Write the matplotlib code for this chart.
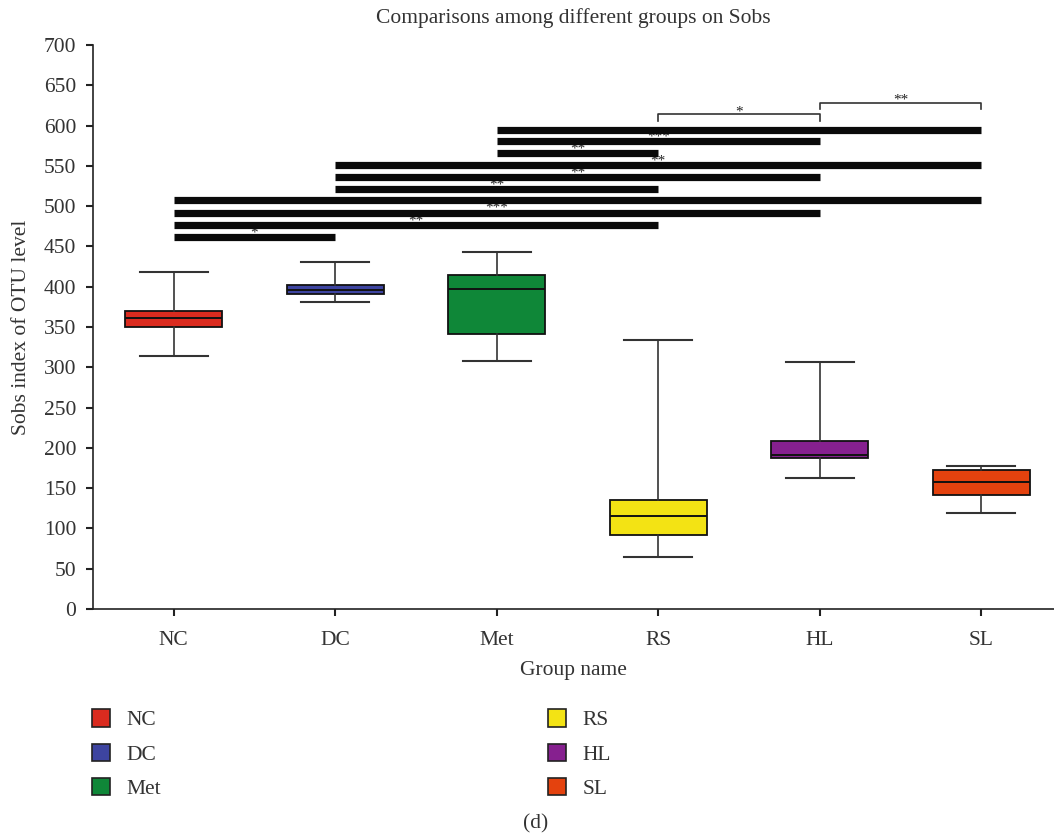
import matplotlib
matplotlib.use("Agg")
from matplotlib import pyplot as plt
from matplotlib.patches import Patch

plt.rcParams['font.family'] = ['Liberation Serif', 'DejaVu Serif']

groups = ['NC', 'DC', 'Met', 'RS', 'HL', 'SL']
colors = ['#DA2B1F', '#3D44A0', '#0F8738', '#F3E314', '#86208F', '#E4420E']

# box summary per group
whis_low = [314, 381, 308, 65, 162, 119]
q1 = [350, 391, 341, 92, 187, 141]
median = [361, 396, 397, 115, 191, 157]
q3 = [370, 402, 414, 135, 209, 172]
whis_high = [418, 430, 443, 334, 307, 177]

# pairwise comparisons drawn as heavy bars
pair_a = ['NC', 'NC', 'NC', 'NC', 'DC', 'DC', 'DC', 'Met', 'Met', 'Met']
pair_b = ['DC', 'RS', 'HL', 'SL', 'RS', 'HL', 'SL', 'RS', 'HL', 'SL']
pair_y = [462, 477, 492, 507, 521, 536, 551, 566, 581, 595]
pair_sig = ['*', '**', '***', '', '**', '**', '**', '**', '***', '']

# bracket comparisons
br_a = ['RS', 'HL']
br_b = ['HL', 'SL']
br_y = [614, 628]
br_sig = ['*', '**']

fs = 15.5

fig = plt.figure(figsize=(10.54, 8.35), dpi=100)
ax = fig.add_axes([0.0882, 0.2707, 0.9118, 0.6755])

stats = []
for i, g in enumerate(groups):
    stats.append(dict(label=g, whislo=whis_low[i], q1=q1[i], med=median[i],
                      q3=q3[i], whishi=whis_high[i], fliers=[]))

pos = list(range(1, len(groups) + 1))
bp = ax.bxp(stats, positions=pos, widths=0.6, capwidths=0.42, patch_artist=True,
            showfliers=False,
            boxprops=dict(edgecolor='#111111', linewidth=1.3),
            medianprops=dict(color='#111111', linewidth=1.4),
            whiskerprops=dict(color='#333333', linewidth=1.2),
            capprops=dict(color='#333333', linewidth=1.5))
for box, c in zip(bp['boxes'], colors):
    box.set_facecolor(c)

gx = {g: p for g, p in zip(groups, pos)}
for a, b, y, s in zip(pair_a, pair_b, pair_y, pair_sig):
    ax.plot([gx[a], gx[b]], [y, y], color='#0a0a0a', lw=5.2,
            solid_capstyle='butt', zorder=5)
    if s:
        ax.text((gx[a] + gx[b]) / 2, y + 5, s, ha='center', va='center',
                fontsize=11, color='#222222', zorder=4)

for a, b, y, s in zip(br_a, br_b, br_y, br_sig):
    ax.plot([gx[a], gx[a], gx[b], gx[b]], [y - 8, y, y, y - 8],
            color='#333333', lw=1.2, zorder=5)
    ax.text((gx[a] + gx[b]) / 2, y + 3, s, ha='center', va='center',
            fontsize=11, color='#222222')

ax.set_xlim(0.5, 6.45)
ax.set_ylim(0, 700)
ax.set_yticks(range(0, 701, 50))
ax.set_xticks(pos)
ax.set_xticklabels(groups)
for sp in ['top', 'right']:
    ax.spines[sp].set_visible(False)
for sp in ['left', 'bottom']:
    ax.spines[sp].set_linewidth(1.2)
    ax.spines[sp].set_color('#222222')
ax.tick_params(direction='out', length=5, width=1.5, labelsize=fs,
               colors='#222222', labelcolor='#333333')
ax.tick_params(axis='y', pad=7)
ax.tick_params(axis='x', pad=11)

ax.set_title('Comparisons among different groups on Sobs', fontsize=fs,
             color='#333333', pad=16)
ax.set_xlabel('Group name', fontsize=fs, color='#333333', labelpad=8)
ax.set_ylabel('Sobs index of OTU level', fontsize=fs, color='#333333',
              labelpad=9)

handles = [Patch(facecolor=c, edgecolor='#222222', linewidth=1.2, label=g)
           for g, c in zip(groups, colors)]
leg_kw = dict(frameon=False, fontsize=fs, handlelength=0.85, handleheight=0.85,
              handletextpad=0.75, labelspacing=0.62, labelcolor='#333333')
fig.legend(handles=handles[:3], loc='upper left',
           bbox_to_anchor=(0.069, 0.1736), **leg_kw)
fig.legend(handles=handles[3:], loc='upper left',
           bbox_to_anchor=(0.5015, 0.1736), **leg_kw)

fig.text(0.508, 0.013, '(d)', ha='center', va='center', fontsize=fs,
         color='#333333')

fig.savefig('out.png', dpi=100)
